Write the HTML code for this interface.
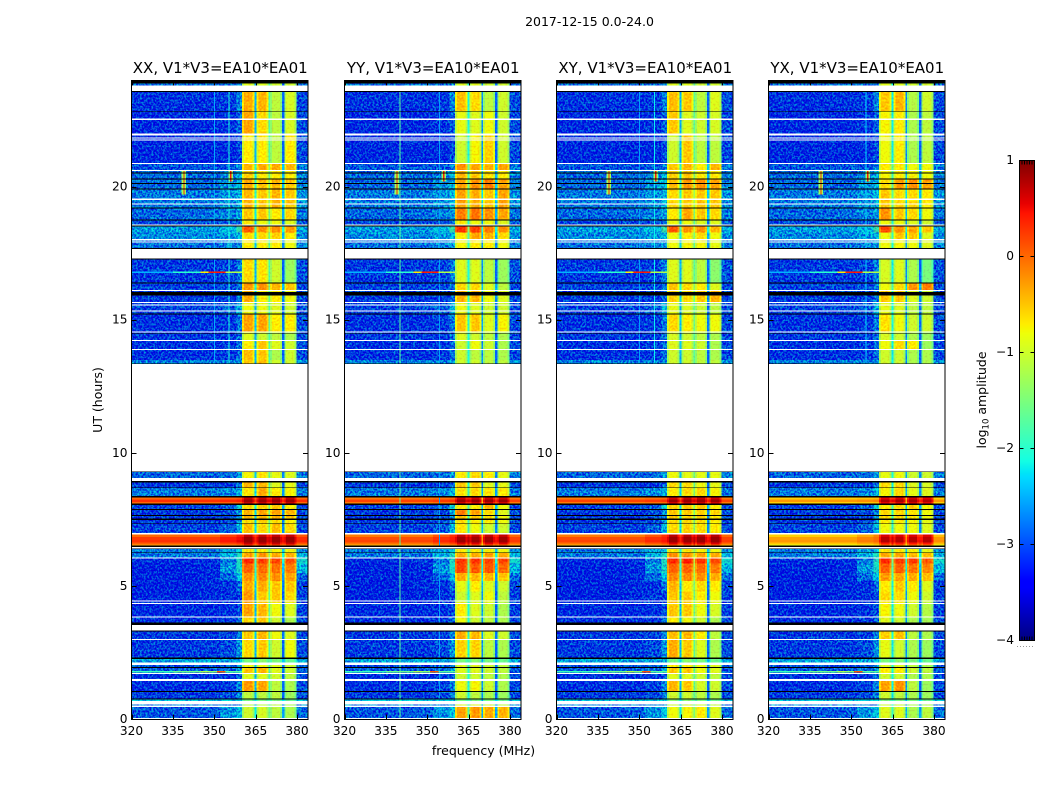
<!DOCTYPE html>
<html>
<head>
<meta charset="utf-8">
<title>2017-12-15 dynamic spectra</title>
<style>
html,body{margin:0;padding:0;background:#fff;}
svg{display:block;font-family:"DejaVu Sans","Liberation Sans",sans-serif;}
</style>
</head>
<body>
<svg id="figure" xmlns="http://www.w3.org/2000/svg" width="1050" height="800" viewBox="0 0 1050 800">
  <defs>
    <filter id="speckle" x="0" y="0" width="100%" height="100%" color-interpolation-filters="sRGB">
      <feTurbulence type="fractalNoise" baseFrequency="0.52 0.46" numOctaves="2" seed="7" result="noise"/>
      <feColorMatrix in="noise" type="matrix" values="0 0 0 0 0.5  2.8 0 0 0 -0.9  0 0 0 0 0.5  0 0 0 0 1" result="greenNoise"/>
      <feComposite in="SourceGraphic" in2="greenNoise" operator="arithmetic" k1="0" k2="1" k3="0.72" k4="-0.36"/>
    </filter>
    <filter id="soft-speckle" x="0" y="0" width="100%" height="100%" color-interpolation-filters="sRGB">
      <feTurbulence type="fractalNoise" baseFrequency="0.5 0.5" numOctaves="1" seed="11" result="noise"/>
      <feColorMatrix in="noise" type="matrix" values="0 0 0 0 0.5  2.2 0 0 0 -0.6  0 0 0 0 0.5  0 0 0 0 1" result="greenNoise"/>
      <feComposite in="SourceGraphic" in2="greenNoise" operator="arithmetic" k1="0" k2="1" k3="0.24" k4="-0.12"/>
    </filter>
  </defs>
  <rect width="1050" height="800" fill="#fff"/>
  <text x="589.5" y="26" font-size="12.5" text-anchor="middle">2017-12-15 0.0-24.0</text>
  <text x="483.5" y="755" font-size="12.5" text-anchor="middle">frequency (MHz)</text>
  <text transform="translate(102,400) rotate(-90)" font-size="12.5" text-anchor="middle">UT (hours)</text>
  <g id="panels"></g>
  <g id="colorbar"></g>
  <text transform="translate(986,400) rotate(-90)" font-size="12.5" text-anchor="middle">log<tspan font-size="8.5" dy="2.5">10</tspan><tspan dy="-2.5"> amplitude</tspan></text>
</svg>
<script>
// ---- axis data ----
const xTickValues = [320, 335, 350, 365, 380];
const yTickValues = [0, 5, 10, 15, 20];
const colorbarTicks = [1, 0, -1, -2, -3, -4];
const panelKeys = ['xx', 'yy', 'xy', 'yx'];
const panelTitles = ['XX, V1*V3=EA10*EA01', 'YY, V1*V3=EA10*EA01', 'XY, V1*V3=EA10*EA01', 'YX, V1*V3=EA10*EA01'];

// ---- frequency channels (MHz) ----
const backgroundChannelEdges = [320, 345, 352, 358, 360.1];
const rightChannelEdges = [379.8, 384];
const bandChannelEdges = [[360.1, 364.6], [365.4, 369.6], [370.3, 374.6], [375.4, 379.8]];
const gapChannelEdges = [[364.6, 365.4], [369.6, 370.3], [374.6, 375.4]];

// ---- UT block edges (hours, top to bottom) ----
const utEdges = [24, 23.6, 22.85, 22.0, 20.88, 20.62, 20.32, 19.92, 19.2, 18.76,
  18.54, 18.3, 18.0, 17.67, 16.4, 16.14, 15.65, 15.24, 14.56, 14.24,
  13.88, 13.5, 13.36, 9.3, 8.93, 8.7, 8.36, 8.27, 8.17, 8.08,
  7.88, 7.67, 7.5, 7.35, 6.97, 6.85, 6.75, 6.65, 6.58, 6.5,
  6.26, 6.06, 5.85, 5.5, 5.2, 4.8, 4.4, 3.85, 3.6, 3.3,
  3.0, 2.3, 2.15, 1.97, 1.74, 1.5, 1.05, 0.77, 0.6, 0.5, 0];

// ---- log10 amplitude per UT block: background columns, then right edge ----
const backgroundLevels = [
[-2.8,-2.8,-2.8,-2.7,-2.8],[-3.15,-3.15,-3.1,-2.7,-3.0],[-3.2,-3.2,-3.15,-2.9,-3.0],[-3.2,-3.2,-3.2,-3.0,-3.0],[-2.95,-2.95,-2.95,-2.7,-2.75],
[-2.85,-2.85,-2.7,-2.4,-2.7],[-2.85,-2.85,-2.6,-2.4,-2.7],[-2.75,-2.75,-2.6,-2.4,-2.6],[-2.85,-2.8,-2.7,-2.55,-2.75],[-3.0,-3.0,-2.95,-2.8,-2.9],
[-2.55,-2.55,-2.35,-1.9,-2.45],[-2.65,-2.65,-2.55,-2.4,-2.65],[-2.8,-2.8,-2.7,-2.6,-2.7],[-3.1,-3.1,-3.05,-2.7,-2.95],[-3.05,-3.05,-3.0,-2.8,-3.0],
[-3.1,-3.1,-3.1,-2.8,-3.0],[-3.05,-3.0,-2.9,-2.4,-3.0],[-3.15,-3.15,-3.1,-2.75,-3.0],[-3.1,-3.1,-3.1,-2.8,-3.0],[-3.15,-3.15,-3.1,-2.8,-3.0],
[-3.15,-3.15,-3.1,-2.8,-3.0],[-2.7,-2.7,-2.7,-2.6,-2.6],[-2.7,-2.7,-2.7,-2.6,-2.6],[-2.85,-2.85,-2.8,-2.6,-2.7],[-3.1,-3.1,-3.1,-2.8,-3.0],
[-2.75,-2.75,-2.65,-2.4,-2.75],[-0.1,-0.1,-0.05,0,-0.1],[0.2,0.2,0.25,0.3,0.2],[-0.1,-0.1,-0.05,0,-0.1],[-3.05,-3.05,-2.9,-2.2,-3.0],
[-3.1,-3.1,-3.0,-2.6,-3.0],[-3.1,-3.1,-3.0,-2.6,-3.0],[-3.1,-3.1,-3.0,-2.6,-3.0],[-3.05,-3.05,-2.9,-2.4,-3.0],[-0.1,-0.1,0.1,0.3,0],
[0.15,0.15,0.3,0.4,0.2],[0.2,0.2,0.35,0.45,0.25],[-0.05,-0.05,0.1,0.2,0],[-0.4,-0.4,-0.3,-0.2,-0.4],[-2.75,-2.75,-2.5,-2.3,-2.6],
[-2.75,-2.75,-2.4,-2.05,-2.4],[-3.2,-3.15,-2.75,-2.05,-2.15],[-3.25,-3.2,-2.6,-2.1,-2.4],[-3.25,-3.2,-2.85,-2.3,-2.8],[-3.25,-3.2,-3.15,-2.8,-3.05],
[-3.25,-3.2,-3.15,-3.05,-3.05],[-3.2,-3.2,-3.15,-3.0,-3.05],[-3.15,-3.15,-3.1,-2.85,-3.0],[-3.15,-3.15,-3.1,-2.85,-3.0],[-3.1,-3.1,-3.05,-2.7,-3.0],
[-3.1,-3.1,-3.0,-2.6,-3.0],[-2.5,-2.5,-2.5,-2.4,-2.5],[-3.0,-3.0,-2.9,-2.7,-2.9],[-2.9,-2.9,-2.8,-2.6,-2.9],[-3.15,-3.15,-3.1,-2.9,-3.0],
[-3.15,-3.15,-3.05,-2.7,-3.0],[-3.1,-3.1,-3.0,-2.7,-3.0],[-2.3,-2.3,-2.3,-2.3,-2.3],[-2.7,-2.7,-2.7,-2.6,-2.7],[-2.95,-2.9,-2.6,-2.3,-2.8]
];

// ---- gap channels per UT block ----
const gapLevels = [
[-2.3,-1.9,-2.8],[-2.3,-1.9,-2.8],[-2.3,-1.9,-2.8],[-2.3,-1.9,-2.8],[-1.8,-1.5,-2.3],
[-2.0,-1.7,-2.4],[-1.8,-1.5,-2.3],[-1.8,-1.5,-2.3],[-2.0,-1.7,-2.4],[-2.2,-1.9,-2.7],
[-1.6,-1.3,-2.0],[-2.0,-1.7,-2.4],[-2.2,-1.9,-2.6],[-2.3,-1.9,-2.8],[-1.9,-1.6,-2.4],
[-2.2,-1.8,-2.6],[-2.3,-1.9,-2.8],[-2.2,-1.8,-2.7],[-2.3,-1.9,-2.8],[-2.3,-1.9,-2.8],
[-2.3,-1.9,-2.8],[-2.3,-1.9,-2.7],[-2.3,-1.9,-2.7],[-2.2,-1.8,-2.6],[-2.3,-1.9,-2.8],
[-2.1,-1.7,-2.5],[0.2,0.25,0.2],[0.5,0.5,0.5],[0.2,0.25,0.2],[-2.0,-1.7,-2.4],
[-2.1,-1.7,-2.6],[-2.1,-1.7,-2.6],[-2.1,-1.7,-2.6],[-2.1,-1.7,-2.6],[0.4,0.4,0.4],
[0.55,0.55,0.55],[0.6,0.6,0.6],[0.4,0.4,0.4],[0.0,0.0,0.0],[-1.9,-1.6,-2.3],
[-1.7,-1.4,-2.0],[-1.6,-1.3,-2.0],[-1.8,-1.4,-2.3],[-1.9,-1.5,-2.5],[-2.2,-1.7,-2.7],
[-2.3,-1.8,-2.8],[-2.3,-1.8,-2.8],[-2.3,-1.9,-2.8],[-2.3,-1.9,-2.8],[-2.2,-1.8,-2.7],
[-2.3,-1.9,-2.8],[-2.0,-1.8,-2.3],[-2.2,-1.9,-2.7],[-2.2,-1.9,-2.7],[-2.3,-1.9,-2.8],
[-2.3,-1.9,-2.8],[-2.3,-1.9,-2.8],[-2.0,-1.8,-2.2],[-2.2,-1.9,-2.6],[-2.0,-1.7,-2.5]
];

// ---- four polarisation band levels per UT block ----
const xxBands = [
[-.9,-.9,-1,-1],[-.35,-.4,-1.1,-.95],[-.3,-.6,-1.1,-.95],[-.7,-.7,-1.1,-.7],[-.4,-.35,-.35,-.4],
[-.55,-.7,-.7,-.7],[-.35,-.45,-.4,-.5],[-.4,-.5,-.4,-.5],[-.5,-.5,-.7,-.6],[-.7,-.8,-.8,-.9],
[.1,-.2,-.2,-.25],[-.6,-.6,-.55,-.7],[-.7,-.7,-.7,-.8],[-.6,-.65,-1,-1.3],[-.25,-.2,-.4,-.5],
[-.35,-.7,-.7,-.8],[-.8,-.8,-.9,-1],[-.3,-.3,-.7,-.7],[-.9,-1,-1.1,-1.2],[-.7,-.5,-.9,-1],
[-.45,-.5,-1.2,-1],[-.5,-.45,-1,-1],[-.5,-.45,-1,-1],[-.75,-.65,-.85,-.9],[-.4,-.4,-.9,-.85],
[-.65,-.35,-.7,-.75],[.7,.7,.7,.7],[.9,.9,.9,.9],[.7,.7,.7,.7],[-.6,-.55,-.5,-.7],
[-.4,-.3,-.3,-.4],[-.4,-.35,-.4,-.5],[-.6,-.55,-.6,-.7],[-.45,-.6,-.45,-.6],[.7,.7,.7,.7],
[.88,.88,.88,.88],[.9,.9,.9,.9],[.7,.7,.7,.7],[.3,.3,.25,.2],[-.7,-.7,-.75,-.8],
[-.3,-.25,-.35,-.4],[.35,.25,.2,.15],[.05,0,-.05,-.1],[-.2,-.15,-.2,-.3],[-.35,-.35,-.5,-.5],
[-.25,-.5,-.5,-.6],[-.3,-.4,-.8,-.9],[-.6,-.5,-1,-1.2],[-.6,-.5,-1,-1.2],[-.5,-.4,-.8,-.9],
[-.6,-.5,-1,-.8],[-1.5,-1.4,-1.5,-1.6],[-.8,-.8,-.9,-1],[-.5,-.4,-.9,-1],[-.9,-.9,-1,-1.1],
[-.25,-.3,-1.1,-1.2],[-1.1,-1.1,-1.1,-1.3],[-1.5,-1.5,-1.5,-1.6],[-1.1,-1.1,-1.1,-1.2],[-1,-.95,-1.1,-1.2]
];
const yyBands = [
[-.9,-.9,-1,-1],[-.45,-.6,-1.1,-1],[-.85,-.9,-.8,-1],[-1,-.75,-.55,-1],[-.2,-.3,-.4,-.3],
[-.4,-.5,-.65,-.7],[-.3,-.2,-.1,-.3],[-.3,-.35,-.5,-.3],[-.1,-.05,-.2,-.3],[-.7,-.8,-.8,-.9],
[.3,.25,-.1,-.2],[-.7,-.3,-.4,-.6],[-.75,-.7,-.7,-.8],[-.9,-.9,-1.1,-1.3],[-.6,-.6,-.9,-1.1],
[-.4,-.4,-.8,-.9],[-.8,-.9,-1,-1],[-.5,-.5,-.9,-.75],[-.9,-1,-1.1,-1.2],[-1,-.8,-1,-1.2],
[-1,-1.1,-1.1,-1.2],[-1,-1,-1.1,-1.1],[-1,-1,-1.1,-1.1],[-.7,-.6,-.7,-.85],[-.5,-.5,-.9,-.85],
[-.65,-.6,-.65,-.7],[.65,.65,.65,.65],[.9,.9,.9,.9],[.65,.65,.65,.65],[-.7,-.7,-.4,-.8],
[-.1,-.3,-.6,-.9],[-.45,-.5,-.6,-.8],[-.6,-.7,-.7,-.8],[-.65,-.8,-1,-1],[.7,.7,.7,.7],
[.85,.85,.85,.85],[.88,.88,.88,.88],[.6,.6,.6,.6],[.1,.1,.05,0],[-.7,-.7,-.75,-.8],
[-.35,-.35,-.3,-.35],[.3,.3,.2,.2],[.2,.1,.1,0],[-.35,-.4,-.4,-.5],[-.85,-.7,-.9,-1],
[-1,-.9,-.8,-1.1],[-.7,-.9,-1,-1.2],[-.8,-1,-1.1,-1.2],[-.8,-1,-1.1,-1.2],[-.35,-.4,-.9,-1],
[-.55,-.55,-1.1,-1.2],[-1.5,-1.4,-1.5,-1.6],[-.9,-.9,-1,-1.1],[-.9,-.9,-1,-1.1],[-1,-1,-1.1,-1.2],
[-.8,-.75,-1,-1.2],[-1,-1.1,-1.2,-1.3],[-1.5,-1.5,-1.5,-1.6],[-.9,-.9,-1,-1.1],[-.3,-.25,-.35,-.4]
];
const xyBands = [
[-.9,-.9,-1,-1],[-.45,-.5,-1.1,-.9],[-.5,-.9,-1,-.95],[-1,-.5,-1.1,-1.1],[-.5,-.4,-.7,-.4],
[-.55,-.5,-.7,-.7],[-.45,-.25,-.2,-.3],[-.6,-.5,-.5,-.5],[-.7,-.3,-.5,-.6],[-.8,-.8,-.9,-.9],
[.1,-.2,-.2,-.4],[-.8,-.7,-.6,-.8],[-.8,-.75,-.75,-.85],[-.9,-.9,-1.1,-1.4],[-.5,-.6,-.7,-.9],
[-.55,-.6,-.5,-.4],[-.85,-.9,-1,-1.1],[-.6,-.7,-.8,-.8],[-.95,-1,-1.1,-1.2],[-.9,-.9,-1,-1.2],
[-1,-1,-1.1,-1.2],[-1,-1,-1.1,-1.1],[-1,-1,-1.1,-1.1],[-.8,-.85,-.85,-.85],[-.6,-.6,-.8,-.85],
[-.7,-.6,-.6,-.75],[.65,.7,.7,.65],[.9,.9,.9,.9],[.65,.7,.7,.65],[-.55,-.5,-.5,-.7],
[-.5,-.5,-.55,-.6],[-.5,-.55,-.55,-.65],[-.6,-.6,-.6,-.7],[-.6,-.55,-.6,-.7],[.75,.75,.75,.75],
[.88,.88,.88,.88],[.88,.88,.88,.88],[.6,.6,.6,.6],[.1,.1,.1,.05],[-.7,-.7,-.75,-.8],
[-.2,-.2,-.3,-.35],[.35,.4,.3,.2],[.05,.05,0,-.1],[-.15,-.15,-.2,-.35],[-.4,-.7,-.6,-.7],
[-.5,-.5,-.7,-.8],[-.5,-.5,-.8,-.95],[-.7,-.8,-1,-1.2],[-.7,-.8,-1,-1.2],[-.45,-.4,-.7,-1.1],
[-.35,-.5,-.9,-1.2],[-1.5,-1.4,-1.5,-1.6],[-.7,-.7,-.8,-.9],[-.5,-.5,-.8,-.9],[-.9,-.9,-1,-1.1],
[-.4,-.5,-.95,-1],[-1,-1,-1.1,-1.2],[-1.4,-1.4,-1.5,-1.6],[-1,-1,-1,-1.1],[-.8,-.75,-.7,-.9]
];
const yxBands = [
[-.9,-.9,-1,-1],[-.5,-.4,-1.15,-1],[-.75,-.7,-1.2,-1.1],[-.8,-.7,-1.2,-1.1],[-.7,-.7,-.8,-.8],
[-.75,-.7,-.75,-.8],[-.6,-.25,-.2,-.3],[-.5,-.6,-.6,-.7],[-.2,-.5,-.6,-.8],[-.8,-.8,-.9,-1],
[.2,-.2,-.3,-.5],[-.8,-.5,-.5,-.9],[-.8,-.75,-.8,-.9],[-.95,-.9,-1.2,-1.5],[-.8,-.6,-.2,-.1],
[-.5,-.5,-.9,-1],[-.85,-.9,-1.1,-1.1],[-.65,-.8,-1,-1],[-.95,-1,-1.2,-1.3],[-.8,-.6,-.7,-1.3],
[-1,-1,-1.2,-1.2],[-1,-1,-1.2,-1.2],[-1,-1,-1.2,-1.2],[-.85,-.8,-1,-1],[-.6,-.6,-.9,-.95],
[-.75,-.6,-.85,-.9],[.55,.6,.65,.55],[.8,.85,.85,.8],[.55,.6,.65,.55],[-.7,-.6,-.55,-.75],
[-.6,-.55,-.65,-.8],[-.6,-.6,-.65,-.8],[-.7,-.7,-.75,-.85],[-.8,-.8,-.8,-.9],[.6,.6,.6,.6],
[.75,.75,.75,.75],[.78,.78,.78,.78],[.45,.45,.45,.45],[.0,.0,.0,-.05],[-.7,-.7,-.75,-.85],
[-.3,-.3,-.4,-.45],[.35,.25,.25,.1],[.05,.05,-.05,-.15],[-.25,-.3,-.35,-.45],[-.7,-.5,-.7,-.9],
[-.6,-.6,-.8,-1],[-.75,-.8,-1,-1.15],[-.9,-1,-1.2,-1.25],[-.9,-1,-1.2,-1.25],[-.55,-.45,-1.1,-1.2],
[-.85,-1,-1.2,-1.3],[-1.5,-1.4,-1.5,-1.6],[-.9,-.9,-1.1,-1.2],[-.7,-.7,-1,-1.1],[-1,-1,-1.2,-1.2],
[-.3,-.2,-1.1,-1.3],[-1,-1.1,-1.2,-1.3],[-1.5,-1.5,-1.5,-1.6],[-1,-1,-1.2,-1.2],[-.9,-.9,-1.2,-1.1]
];

// ---- per-panel adjustments ----
const gapShiftByPanel = [[-0.2, 0.1, -0.1], [0.2, -0.8, -0.1], [-0.2, 0.2, -0.1], [0.1, -0.8, -0.1]];
const strongRowShiftByPanel = [0.1, 0, 0, -0.45];

// ---- narrow vertical channels (MHz) per panel ----
const xxSpurFrequencies = [350, 355.2];
const yySpurFrequencies = [340, 354.2];
const xySpurFrequencies = [350, 355.4];
const yxSpurFrequencies = [355.2];
const spurLevelsByPanel = [[-2.55, -2.1], [-1.7, -2.6], [-2.6, -2.2], [-2.3]];
const spurLowUTByPanel = [[13.4, 13.4], [0, 0], [13.4, 13.4], [13.4]];

// ---- bursts near UT 20 ----
const burstFrequencies = [339, 356];
const burstTopUT = [20.6, 20.6];
const burstBottomUT = [19.72, 20.2];
const burstHaloLevels = [-1.3, -1.4];
const burstCoreLevels = [0.35, 0.4];

// ---- horizontal carriers ----
const carrierUT = [16.79, 1.79];
const carrierEdges = [320, 335, 345, 348, 351, 354, 360];
const carrierLevels = [
  [-2.5, -2.0, -0.7, 0.4, 0.4, -1.2],
  [-1.9, -1.6, -1.2, -1.4, 0.1, -1.7]
];

// ---- flagged time ranges [low UT, high UT] ----
const noDataSpans = [[23.61,23.81],[22.52,22.57],[21.94,22.01],[21.82,21.86],[21.74,21.78],[20.87,20.9],[20.61,20.64],[19.52,19.56],[19.34,19.38],[18.56,18.59],[17.99,18.05],[17.92,17.96],[17.32,17.67],[16.10,16.14],[15.65,15.68],[15.55,15.59],[15.33,15.37],[14.54,14.58],[14.22,14.26],[13.88,13.92],[9.31,13.36],[8.95,9.07],[6.94,7.0],[6.43,6.47],[6.05,6.08],[4.43,4.47],[4.33,4.37],[3.83,3.86],[3.33,3.55],[2.98,3.02],[2.05,2.15],[1.71,1.74],[1.44,1.52],[0.56,0.7],[0.47,0.52],[0.02,0.06]];
const zeroAmplitudeSpans = [[23.88,24],[23.57,23.61],[22.83,22.86],[20.51,20.54],[20.29,20.32],[20.12,20.15],[19.91,19.94],[19.19,19.23],[18.74,18.78],[18.52,18.56],[17.67,17.70],[17.28,17.32],[16.38,16.42],[15.93,16.06],[15.22,15.25],[14.47,14.50],[13.35,13.38],[9.29,9.32],[8.91,8.95],[8.69,8.72],[8.33,8.39],[8.05,8.11],[7.86,7.90],[7.65,7.69],[7.49,7.54],[7.34,7.37],[6.47,6.53],[6.40,6.43],[6.25,6.27],[3.55,3.64],[3.30,3.34],[2.27,2.33],[1.93,1.97],[1.03,1.07],[0.75,0.79]];

// ---- layout ----
const NS = 'http://www.w3.org/2000/svg';
const panelLeft = [131.5, 344.5, 556.5, 768.5];
const panelWidth = 176.5;
const plotTop = 80.5, plotBottom = 719.5;
const xDomain = [320, 384], yDomain = [0, 24], colorDomain = [-4, 1];
const barLeft = 1019.5, barRight = 1034.5, barTop = 160.5, barBottom = 640.5;

function xScale(p, mhz) { return panelLeft[p] + (mhz - xDomain[0]) / (xDomain[1] - xDomain[0]) * panelWidth; }
function yScale(ut) { return plotBottom - (ut - yDomain[0]) / (yDomain[1] - yDomain[0]) * (plotBottom - plotTop); }
function cbScale(v) { return barBottom - (v - colorDomain[0]) / (colorDomain[1] - colorDomain[0]) * (barBottom - barTop); }

function ramp(t, a, b, v0, v1) { return v0 + (v1 - v0) * (t - a) / (b - a); }
function jet(level) {
  const t = Math.max(0, Math.min(1, (level - colorDomain[0]) / (colorDomain[1] - colorDomain[0])));
  let r, g, b;
  r = t < 0.35 ? 0 : t < 0.66 ? ramp(t, 0.35, 0.66, 0, 1) : t < 0.89 ? 1 : ramp(t, 0.89, 1, 1, 0.5);
  g = t < 0.125 ? 0 : t < 0.375 ? ramp(t, 0.125, 0.375, 0, 1) : t < 0.64 ? 1 : t < 0.91 ? ramp(t, 0.64, 0.91, 1, 0) : 0;
  b = t < 0.11 ? ramp(t, 0, 0.11, 0.5, 1) : t < 0.34 ? 1 : t < 0.65 ? ramp(t, 0.34, 0.65, 1, 0) : 0;
  return 'rgb(' + Math.round(r * 255) + ',' + Math.round(g * 255) + ',' + Math.round(b * 255) + ')';
}

function makeRect(parent, x, y, w, h, fill) {
  const el = document.createElementNS(NS, 'rect');
  el.setAttribute('x', x);
  el.setAttribute('y', y);
  el.setAttribute('width', Math.max(w, 0.5));
  el.setAttribute('height', Math.max(h, 0.5));
  el.setAttribute('fill', fill);
  el.setAttribute('shape-rendering', 'crispEdges');
  parent.appendChild(el);
  return el;
}
function makeLine(parent, x1, y1, x2, y2) {
  const el = document.createElementNS(NS, 'line');
  el.setAttribute('x1', x1);
  el.setAttribute('y1', y1);
  el.setAttribute('x2', x2);
  el.setAttribute('y2', y2);
  el.setAttribute('stroke', '#000');
  el.setAttribute('stroke-width', '1');
  parent.appendChild(el);
  return el;
}
function makeText(parent, x, y, content, anchor, size) {
  const el = document.createElementNS(NS, 'text');
  el.setAttribute('x', x);
  el.setAttribute('y', y);
  el.setAttribute('text-anchor', anchor);
  el.setAttribute('font-size', size);
  el.textContent = content;
  parent.appendChild(el);
  return el;
}
function makeGroup(parent) {
  const el = document.createElementNS(NS, 'g');
  parent.appendChild(el);
  return el;
}
function tickLabel(v) { return v < 0 ? '\u2212' + Math.abs(v) : String(v); }

const panelBands = [xxBands, yyBands, xyBands, yxBands];
const panelSpurs = [xxSpurFrequencies, yySpurFrequencies, xySpurFrequencies, yxSpurFrequencies];
const bandEdgeWidth = 0.7, bandEdgeDrop = 0.3;

function drawCell(parent, p, f0, f1, utHigh, utLow, level) {
  const cell = makeRect(parent, xScale(p, f0), yScale(utHigh), xScale(p, f1) - xScale(p, f0), yScale(utLow) - yScale(utHigh), jet(level));
  
  
  return cell;
}

const panelsRoot = document.getElementById('panels');
panelKeys.forEach(function (key, p) {
  const panel = makeGroup(panelsRoot);
  
  

  const cells = makeGroup(panel);
  
  
  cells.setAttribute('filter', 'url(#speckle)');

  const bandCells = makeGroup(panel);
  
  
  bandCells.setAttribute('filter', 'url(#soft-speckle)');

  const strongCells = makeGroup(panel);
  
  

  // the speckle filter crops to its group, so both filtered groups span the full plot
  drawCell(bandCells, p, xDomain[0], xDomain[1], yDomain[1], yDomain[1], -4).setAttribute('fill-opacity', '0');

  for (let r = 0; r < utEdges.length - 1; r++) {
    const hi = utEdges[r], lo = utEdges[r + 1];
    const bg = backgroundLevels[r];
    const strong = bg[0] > -1;
    const shift = strong ? strongRowShiftByPanel[p] : 0;
    const bgTarget = strong ? strongCells : cells;
    const bandTarget = strong ? strongCells : bandCells;
    for (let c = 0; c < backgroundChannelEdges.length - 1; c++) {
      drawCell(bgTarget, p, backgroundChannelEdges[c], backgroundChannelEdges[c + 1], hi, lo, bg[c] + shift);
    }
    drawCell(bgTarget, p, rightChannelEdges[0], rightChannelEdges[1], hi, lo, bg[4] + shift);
    for (let b = 0; b < bandChannelEdges.length; b++) {
      const e = bandChannelEdges[b], level = panelBands[p][r][b];
      drawCell(bandTarget, p, e[0], e[0] + bandEdgeWidth, hi, lo, level - bandEdgeDrop);
      drawCell(bandTarget, p, e[0] + bandEdgeWidth, e[1] - bandEdgeWidth, hi, lo, level);
      drawCell(bandTarget, p, e[1] - bandEdgeWidth, e[1], hi, lo, level - bandEdgeDrop);
    }
    for (let g = 0; g < gapChannelEdges.length; g++) {
      const e = gapChannelEdges[g];
      drawCell(bandTarget, p, e[0], e[1], hi, lo, gapLevels[r][g] + gapShiftByPanel[p][g]);
    }
  }

  const marks = makeGroup(panel);
  
  
  panelSpurs[p].forEach(function (freq, i) {
    const spur = drawCell(marks, p, freq, freq + 0.35, 23.57, spurLowUTByPanel[p][i], spurLevelsByPanel[p][i]);
    
  });
  burstFrequencies.forEach(function (freq, i) {
    const halo = drawCell(marks, p, freq - 0.8, freq + 0.8, burstTopUT[i], burstBottomUT[i], burstHaloLevels[i]);
    
    const core = drawCell(marks, p, freq - 0.2, freq + 0.2, burstTopUT[i], burstBottomUT[i], burstCoreLevels[i]);
    
  });
  carrierUT.forEach(function (ut, i) {
    carrierLevels[i].forEach(function (level, c) {
      const seg = drawCell(marks, p, carrierEdges[c], carrierEdges[c + 1], ut + 0.03, ut - 0.02, level);
      
    });
  });

  const masks = makeGroup(panel);
  
  
  noDataSpans.forEach(function (span) {
    const band = makeRect(masks, panelLeft[p], yScale(span[1]), panelWidth, yScale(span[0]) - yScale(span[1]), '#fff');
    
    
  });
  zeroAmplitudeSpans.forEach(function (span) {
    const band = makeRect(masks, panelLeft[p], yScale(span[1]), panelWidth, yScale(span[0]) - yScale(span[1]), '#000');
    
    
  });

  const axes = makeGroup(panel);
  
  

  const frame = document.createElementNS(NS, 'rect');
  frame.setAttribute('x', panelLeft[p]);
  frame.setAttribute('y', plotTop);
  frame.setAttribute('width', panelWidth);
  frame.setAttribute('height', plotBottom - plotTop);
  frame.setAttribute('fill', 'none');
  frame.setAttribute('stroke', '#000');
  frame.setAttribute('stroke-width', '1');
  
  
  axes.appendChild(frame);

  xTickValues.forEach(function (v) {
    const x = Math.round(xScale(p, v)) + 0.5;
    const t1 = makeLine(axes, x, plotBottom, x, plotBottom - 5);
    
    
    const t2 = makeLine(axes, x, plotTop, x, plotTop + 5);
    
    
    const label = makeText(axes, xScale(p, v), 735, String(v), 'middle', 12.2);
    
    
  });
  yTickValues.forEach(function (v) {
    const y = Math.round(yScale(v) - 0.5) + 0.5;
    const t1 = makeLine(axes, panelLeft[p], y, panelLeft[p] + 5, y);
    
    
    const t2 = makeLine(axes, panelLeft[p] + panelWidth, y, panelLeft[p] + panelWidth - 5, y);
    
    
    const label = makeText(axes, panelLeft[p] - 4, yScale(v) + 3.5, String(v), 'end', 12.2);
    
    
  });

  const title = makeText(axes, panelLeft[p] + panelWidth / 2 + 0.5, 73, panelTitles[p], 'middle', 15);
  
  
});

// ---- colorbar ----
const cbRoot = document.getElementById('colorbar');
const cbSteps = 240;
for (let i = 0; i < cbSteps; i++) {
  const v0 = colorDomain[0] + (colorDomain[1] - colorDomain[0]) * i / cbSteps;
  const v1 = colorDomain[0] + (colorDomain[1] - colorDomain[0]) * (i + 1) / cbSteps;
  const swatch = makeRect(cbRoot, barLeft, cbScale(v1), barRight - barLeft, cbScale(v0) - cbScale(v1), jet((v0 + v1) / 2));
  
  
}
const cbFrame = document.createElementNS(NS, 'rect');
cbFrame.setAttribute('x', barLeft);
cbFrame.setAttribute('y', barTop);
cbFrame.setAttribute('width', barRight - barLeft);
cbFrame.setAttribute('height', barBottom - barTop);
cbFrame.setAttribute('fill', 'none');
cbFrame.setAttribute('stroke', '#000');
cbFrame.setAttribute('stroke-width', '1');


cbRoot.appendChild(cbFrame);

colorbarTicks.forEach(function (v) {
  const y = Math.round(cbScale(v) - 0.5) + 0.5;
  const left = makeLine(cbRoot, barLeft, y, barLeft + 4, y);
  
  
  const right = makeLine(cbRoot, barRight, y, barRight - 4, y);
  
  
  const label = makeText(cbRoot, 1014, cbScale(v) + 3.5, tickLabel(v), 'end', 12.2);
  
  
});
for (let i = 1; i < 6; i++) {
  const x = barLeft + i * (barRight - barLeft) / 6;
  const topTick = makeLine(cbRoot, x, barTop, x, barTop + 4);
  
  
  const bottomTick = makeLine(cbRoot, x, barBottom, x, barBottom - 4);
  
  
}
const cbDots = makeLine(cbRoot, 1017, 646.5, 1035, 646.5);
cbDots.setAttribute('stroke', '#999');
cbDots.setAttribute('stroke-dasharray', '1 2');


</script>
</body>
</html>
